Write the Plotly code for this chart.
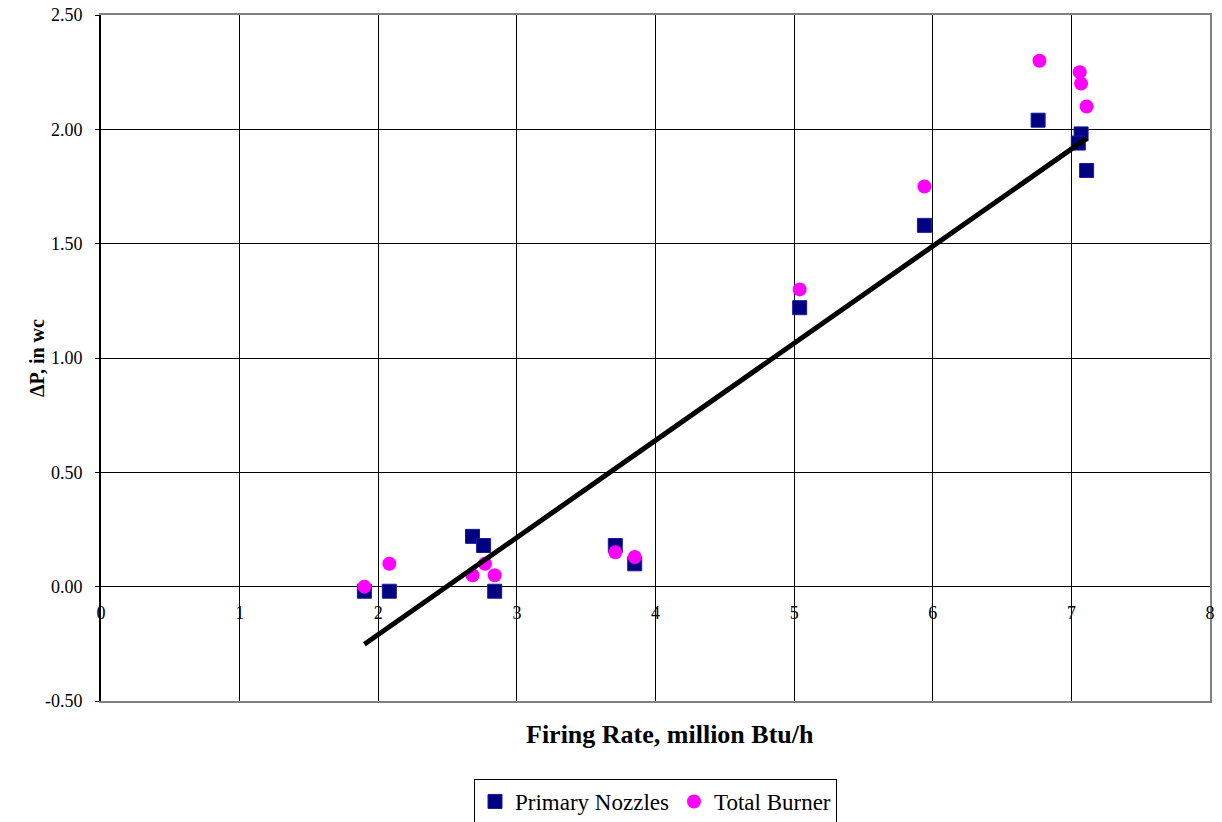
import numpy as np
import plotly.graph_objects as go

# Firing rate (million Btu/h) for each test point
firing_rate = [1.90, 2.08, 2.68, 2.76, 2.84, 3.71, 3.85, 5.04, 5.94, 6.76, 7.07, 7.05, 7.11]
# Pressure drop across the primary nozzles (in wc)
primary_dp = [-0.02, -0.02, 0.22, 0.18, -0.02, 0.18, 0.10, 1.22, 1.58, 2.04, 1.98, 1.94, 1.82]
# Firing rate / pressure drop across the total burner (in wc)
total_rate = [1.90, 2.08, 2.68, 2.77, 2.84, 3.71, 3.85, 5.04, 5.94, 6.77, 7.06, 7.07, 7.11]
total_dp = [0.00, 0.10, 0.05, 0.10, 0.05, 0.15, 0.13, 1.30, 1.75, 2.30, 2.25, 2.20, 2.10]

x_ticks = [0, 1, 2, 3, 4, 5, 6, 7, 8]
y_ticks = [-0.5, 0.0, 0.5, 1.0, 1.5, 2.0, 2.5]
y_labels = [f"{v:.2f}" for v in y_ticks]

# Linear trend fitted to the primary-nozzle points
slope, intercept = np.polyfit(firing_rate, primary_dp, 1)
trend_x = np.array([min(firing_rate), max(firing_rate)])
trend_y = slope * trend_x + intercept

FONT = "Liberation Serif, Times New Roman, serif"

fig = go.Figure()
fig.add_trace(go.Scatter(
    x=firing_rate, y=primary_dp, mode="markers", name="Primary Nozzles",
    marker=dict(symbol="square", size=14, color="#000080",
                line=dict(color="#1a1aa0", width=1)),
))
fig.add_trace(go.Scatter(
    x=total_rate, y=total_dp, mode="markers", name="Total Burner",
    marker=dict(symbol="circle", size=14, color="#FF00FF", line=dict(width=0)),
))
fig.add_trace(go.Scatter(
    x=trend_x, y=trend_y, mode="lines", showlegend=False,
    line=dict(color="black", width=5),
))
# invisible trace to carry the tick labels along the zero line
fig.add_trace(go.Scatter(x=[0], y=[0], xaxis="x2", yaxis="y", mode="markers",
                         marker=dict(opacity=0), showlegend=False, hoverinfo="skip"))
# invisible trace for the black left-hand axis line
fig.add_trace(go.Scatter(x=[0], y=[0], xaxis="x", yaxis="y2", mode="markers",
                         marker=dict(opacity=0), showlegend=False, hoverinfo="skip"))

fig.update_layout(
    width=1222, height=822,
    margin=dict(l=101, r=12, t=15, b=121, autoexpand=False),
    paper_bgcolor="white", plot_bgcolor="white",
    font=dict(family=FONT, color="black", size=17),
    showlegend=True,
    legend=dict(
        orientation="h", x=0.5, xanchor="center", y=-0.1137, yanchor="top",
        bordercolor="black", borderwidth=1,
        font=dict(family=FONT, size=23, color="black"),
        itemwidth=30, tracegroupgap=0,
    ),
    xaxis=dict(
        range=[0, 8], tickvals=x_ticks, showticklabels=False, ticks="",
        showgrid=True, gridcolor="black", gridwidth=1,
        showline=True, linecolor="#808080", linewidth=2, mirror=True,
        zeroline=False, automargin=False,
    ),
    xaxis2=dict(
        range=[0, 8], tickvals=x_ticks, overlaying="x", anchor="free",
        position=(0 - y_ticks[0]) / (y_ticks[-1] - y_ticks[0]),
        side="bottom", showgrid=False, showline=False, zeroline=False,
        ticks="outside", ticklen=10, tickcolor="rgba(0,0,0,0)",
        tickfont=dict(family=FONT, size=18), automargin=False,
    ),
    yaxis=dict(
        range=[-0.5, 2.5], tickvals=y_ticks, ticktext=y_labels,
        showgrid=True, gridcolor="black", gridwidth=1,
        showline=True, linecolor="#808080", linewidth=2, mirror=True,
        zeroline=False, automargin=False,
        ticks="outside", ticklen=4, tickcolor="black",
        ticklabelstandoff=9,
        tickfont=dict(family=FONT, size=18),
    ),
    yaxis2=dict(
        range=[-0.5, 2.5], overlaying="y", side="left", showgrid=False,
        showticklabels=False, ticks="", zeroline=False, automargin=False,
        showline=True, linecolor="black", linewidth=2,
    ),
    annotations=[
        dict(text="<b>Firing Rate, million Btu/h</b>", xref="paper", yref="paper",
             x=0.513, y=-0.025, xanchor="center", yanchor="top", showarrow=False,
             font=dict(family=FONT, size=26, color="black")),
        dict(text="<b>ΔP, in wc</b>", xref="paper", yref="paper",
             x=-0.0577, y=0.5, xanchor="center", yanchor="middle", showarrow=False,
             textangle=-90, font=dict(family=FONT, size=20, color="black")),
    ],
)

fig.write_html("out.html")
